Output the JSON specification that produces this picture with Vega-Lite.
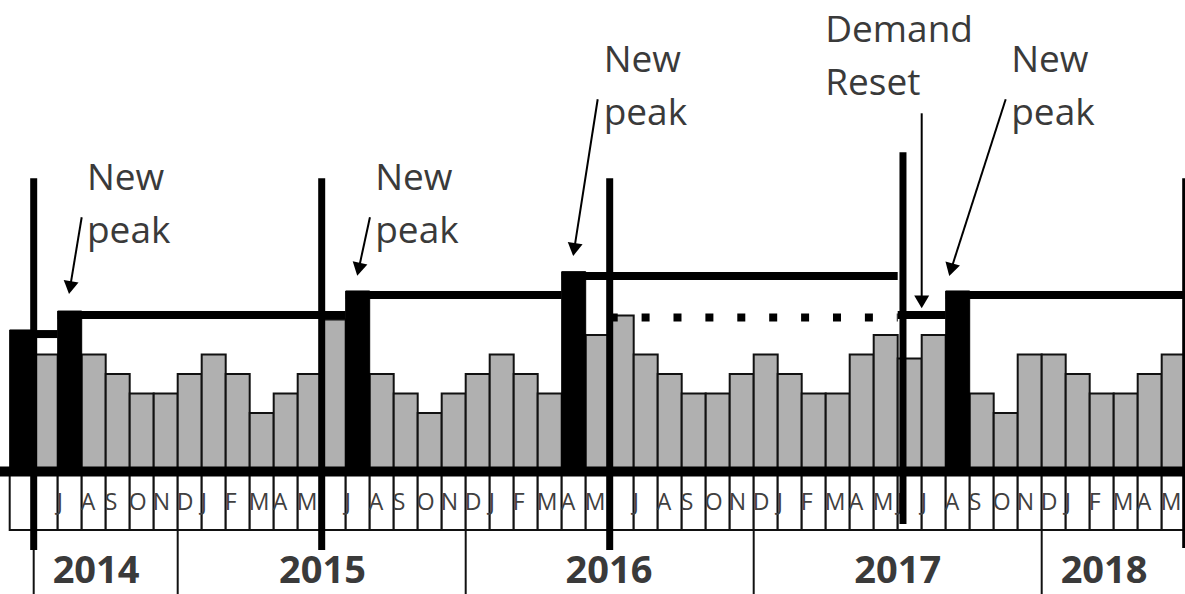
{
  "$schema": "https://vega.github.io/schema/vega-lite/v6.json",
  "width": 1185,
  "height": 594,
  "padding": 0,
  "autosize": {"type": "none"},
  "background": "white",
  "config": {"view": {"stroke": null}},
  "datasets": {
    "months": [
      {"month": "2014-05", "m": 0, "e": 1, "label": "", "v": 7.26, "kind": "peak"},
      {"month": "2014-06", "m": 1, "e": 2, "label": "", "v": 6, "kind": "grey"},
      {"month": "2014-07", "m": 2, "e": 3, "label": "J", "v": 8.23, "kind": "peak"},
      {"month": "2014-08", "m": 3, "e": 4, "label": "A", "v": 6, "kind": "grey"},
      {"month": "2014-09", "m": 4, "e": 5, "label": "S", "v": 5, "kind": "grey"},
      {"month": "2014-10", "m": 5, "e": 6, "label": "O", "v": 4, "kind": "grey"},
      {"month": "2014-11", "m": 6, "e": 7, "label": "N", "v": 4, "kind": "grey"},
      {"month": "2014-12", "m": 7, "e": 8, "label": "D", "v": 5, "kind": "grey"},
      {"month": "2015-01", "m": 8, "e": 9, "label": "J", "v": 6, "kind": "grey"},
      {"month": "2015-02", "m": 9, "e": 10, "label": "F", "v": 5, "kind": "grey"},
      {"month": "2015-03", "m": 10, "e": 11, "label": "M", "v": 3, "kind": "grey"},
      {"month": "2015-04", "m": 11, "e": 12, "label": "A", "v": 4, "kind": "grey"},
      {"month": "2015-05", "m": 12, "e": 13, "label": "M", "v": 5, "kind": "grey"},
      {"month": "2015-06", "m": 13, "e": 14, "label": "", "v": 7.8, "kind": "grey"},
      {"month": "2015-07", "m": 14, "e": 15, "label": "J", "v": 9.26, "kind": "peak"},
      {"month": "2015-08", "m": 15, "e": 16, "label": "A", "v": 5, "kind": "grey"},
      {"month": "2015-09", "m": 16, "e": 17, "label": "S", "v": 4, "kind": "grey"},
      {"month": "2015-10", "m": 17, "e": 18, "label": "O", "v": 3, "kind": "grey"},
      {"month": "2015-11", "m": 18, "e": 19, "label": "N", "v": 4, "kind": "grey"},
      {"month": "2015-12", "m": 19, "e": 20, "label": "D", "v": 5, "kind": "grey"},
      {"month": "2016-01", "m": 20, "e": 21, "label": "J", "v": 6, "kind": "grey"},
      {"month": "2016-02", "m": 21, "e": 22, "label": "F", "v": 5, "kind": "grey"},
      {"month": "2016-03", "m": 22, "e": 23, "label": "M", "v": 4, "kind": "grey"},
      {"month": "2016-04", "m": 23, "e": 24, "label": "A", "v": 10.25, "kind": "peak"},
      {"month": "2016-05", "m": 24, "e": 25, "label": "M", "v": 7, "kind": "grey"},
      {"month": "2016-06", "m": 25, "e": 26, "label": "", "v": 8, "kind": "grey"},
      {"month": "2016-07", "m": 26, "e": 27, "label": "J", "v": 6, "kind": "grey"},
      {"month": "2016-08", "m": 27, "e": 28, "label": "A", "v": 5, "kind": "grey"},
      {"month": "2016-09", "m": 28, "e": 29, "label": "S", "v": 4, "kind": "grey"},
      {"month": "2016-10", "m": 29, "e": 30, "label": "O", "v": 4, "kind": "grey"},
      {"month": "2016-11", "m": 30, "e": 31, "label": "N", "v": 5, "kind": "grey"},
      {"month": "2016-12", "m": 31, "e": 32, "label": "D", "v": 6, "kind": "grey"},
      {"month": "2017-01", "m": 32, "e": 33, "label": "J", "v": 5, "kind": "grey"},
      {"month": "2017-02", "m": 33, "e": 34, "label": "F", "v": 4, "kind": "grey"},
      {"month": "2017-03", "m": 34, "e": 35, "label": "M", "v": 4, "kind": "grey"},
      {"month": "2017-04", "m": 35, "e": 36, "label": "A", "v": 6, "kind": "grey"},
      {"month": "2017-05", "m": 36, "e": 37, "label": "M", "v": 7, "kind": "grey"},
      {"month": "2017-06", "m": 37, "e": 38, "label": "J", "v": 5.8, "kind": "grey"},
      {"month": "2017-07", "m": 38, "e": 39, "label": "J", "v": 7, "kind": "grey"},
      {"month": "2017-08", "m": 39, "e": 40, "label": "A", "v": 9.26, "kind": "peak"},
      {"month": "2017-09", "m": 40, "e": 41, "label": "S", "v": 4, "kind": "grey"},
      {"month": "2017-10", "m": 41, "e": 42, "label": "O", "v": 3, "kind": "grey"},
      {"month": "2017-11", "m": 42, "e": 43, "label": "N", "v": 6, "kind": "grey"},
      {"month": "2017-12", "m": 43, "e": 44, "label": "D", "v": 6, "kind": "grey"},
      {"month": "2018-01", "m": 44, "e": 45, "label": "J", "v": 5, "kind": "grey"},
      {"month": "2018-02", "m": 45, "e": 46, "label": "F", "v": 4, "kind": "grey"},
      {"month": "2018-03", "m": 46, "e": 47, "label": "M", "v": 4, "kind": "grey"},
      {"month": "2018-04", "m": 47, "e": 48, "label": "A", "v": 5, "kind": "grey"},
      {"month": "2018-05", "m": 48, "e": 49, "label": "M", "v": 6, "kind": "grey"}
    ],
    "demand": [
      {"s": 1, "e": 2, "lvl": 7.05, "style": "solid"},
      {"s": 2, "e": 14, "lvl": 8.03, "style": "solid"},
      {"s": 14, "e": 23, "lvl": 9.05, "style": "solid"},
      {"s": 23, "e": 37, "lvl": 10.03, "style": "solid"},
      {"s": 37, "e": 39, "lvl": 8.03, "style": "solid"},
      {"s": 39, "e": 50, "lvl": 9.05, "style": "solid"},
      {"s": 25, "e": 37, "lvl": 7.9, "style": "dotted"}
    ],
    "periods": [
      {"at": 1, "top": 15.04, "bot": -4.03},
      {"at": 13, "top": 15.04, "bot": -4.03},
      {"at": 25, "top": 15.04, "bot": -4.03},
      {"at": 37.22, "top": 16.37, "bot": -2.69},
      {"at": 49, "top": 15.04, "bot": -3.92}
    ],
    "years": [
      {"year": "2014", "start": 1, "mid": 3.6},
      {"year": "2015", "start": 7, "mid": 13.03},
      {"year": "2016", "start": 19, "mid": 24.97},
      {"year": "2017", "start": 31, "mid": 37.0},
      {"year": "2018", "start": 43, "mid": 45.6}
    ],
    "notes": [
      {"text": "New\npeak", "tx": 3.22, "ty": 14.44, "ax": 3.0, "ay": 13.04, "hx": 2.515, "hy": 9.43, "ang": 9.4},
      {"text": "New\npeak", "tx": 15.23, "ty": 14.44, "ax": 15.01, "ay": 13.04, "hx": 14.54, "hy": 10.37, "ang": 12.3},
      {"text": "New\npeak", "tx": 24.75, "ty": 20.49, "ax": 24.5, "ay": 19.09, "hx": 23.52, "hy": 11.38, "ang": 8.85},
      {"text": "Demand\nReset", "tx": 33.98, "ty": 22.04, "ax": 38.0, "ay": 18.37, "hx": 38.0, "hy": 8.7, "ang": 0},
      {"text": "New\npeak", "tx": 41.73, "ty": 20.5, "ax": 41.5, "ay": 19.09, "hx": 39.22, "hy": 10.35, "ang": 15.3}
    ]
  },
  "layer": [
    {
      "data": {"name": "months"},
      "mark": {"type": "rect", "fill": "white", "stroke": "#111111", "strokeWidth": 2},
      "encoding": {
        "x": {"field": "m", "type": "quantitative", "scale": {"domain": [-0.404, 48.971], "nice": false, "zero": false}, "axis": null},
        "x2": {"field": "e"},
        "y": {"datum": 0, "type": "quantitative", "scale": {"domain": [-6.28, 24.18], "nice": false, "zero": false}, "axis": null},
        "y2": {"datum": -3}
      }
    },
    {
      "data": {"name": "months"},
      "mark": {"type": "text", "align": "left", "baseline": "alphabetic", "font": "Open Sans", "fontSize": 23, "fill": "#404040", "dx": -1},
      "encoding": {
        "x": {"field": "m", "type": "quantitative", "scale": {"domain": [-0.404, 48.971], "nice": false, "zero": false}, "axis": null},
        "y": {"datum": -1.97, "type": "quantitative", "scale": {"domain": [-6.28, 24.18], "nice": false, "zero": false}, "axis": null},
        "text": {"field": "label"}
      }
    },
    {
      "data": {"name": "years"},
      "mark": {"type": "rule", "stroke": "#111111", "strokeWidth": 2},
      "encoding": {
        "x": {"field": "start", "type": "quantitative", "scale": {"domain": [-0.404, 48.971], "nice": false, "zero": false}, "axis": null},
        "y": {"datum": -3, "type": "quantitative", "scale": {"domain": [-6.28, 24.18], "nice": false, "zero": false}, "axis": null},
        "y2": {"datum": -6.4}
      }
    },
    {
      "data": {"name": "years"},
      "mark": {"type": "text", "align": "center", "baseline": "alphabetic", "font": "Open Sans", "fontSize": 38, "fontWeight": "bold", "fill": "#3a3a3a"},
      "encoding": {
        "x": {"field": "mid", "type": "quantitative", "scale": {"domain": [-0.404, 48.971], "nice": false, "zero": false}, "axis": null},
        "y": {"datum": -5.73, "type": "quantitative", "scale": {"domain": [-6.28, 24.18], "nice": false, "zero": false}, "axis": null},
        "text": {"field": "year"}
      }
    },
    {
      "data": {"name": "months"},
      "transform": [{"filter": "datum.kind === 'grey'"}],
      "mark": {"type": "rect", "fill": "#b0b0b0", "stroke": "#111111", "strokeWidth": 2},
      "encoding": {
        "x": {"field": "m", "type": "quantitative", "scale": {"domain": [-0.404, 48.971], "nice": false, "zero": false}, "axis": null},
        "x2": {"field": "e"},
        "y": {"field": "v", "type": "quantitative", "scale": {"domain": [-6.28, 24.18], "nice": false, "zero": false}, "axis": null},
        "y2": {"datum": 0}
      }
    },
    {
      "data": {"name": "months"},
      "transform": [{"filter": "datum.kind === 'peak'"}],
      "mark": {"type": "rect", "fill": "black", "stroke": "black", "strokeWidth": 1},
      "encoding": {
        "x": {"field": "m", "type": "quantitative", "scale": {"domain": [-0.404, 48.971], "nice": false, "zero": false}, "axis": null},
        "x2": {"field": "e"},
        "y": {"field": "v", "type": "quantitative", "scale": {"domain": [-6.28, 24.18], "nice": false, "zero": false}, "axis": null},
        "y2": {"datum": 0}
      }
    },
    {
      "data": {"values": [{"from": -0.5, "to": 50}]},
      "mark": {"type": "rule", "stroke": "black", "strokeWidth": 10},
      "encoding": {
        "x": {"field": "from", "type": "quantitative", "scale": {"domain": [-0.404, 48.971], "nice": false, "zero": false}, "axis": null},
        "x2": {"field": "to"},
        "y": {"datum": 0, "type": "quantitative", "scale": {"domain": [-6.28, 24.18], "nice": false, "zero": false}, "axis": null}
      }
    },
    {
      "data": {"name": "demand"},
      "transform": [{"filter": "datum.style === 'solid'"}],
      "mark": {"type": "rule", "stroke": "black", "strokeWidth": 8},
      "encoding": {
        "x": {"field": "s", "type": "quantitative", "scale": {"domain": [-0.404, 48.971], "nice": false, "zero": false}, "axis": null},
        "x2": {"field": "e"},
        "y": {"field": "lvl", "type": "quantitative", "scale": {"domain": [-6.28, 24.18], "nice": false, "zero": false}, "axis": null}
      }
    },
    {
      "data": {"name": "demand"},
      "transform": [{"filter": "datum.style === 'dotted'"}],
      "mark": {"type": "rule", "stroke": "black", "strokeWidth": 8, "strokeDash": [8, 23.9], "strokeCap": "butt"},
      "encoding": {
        "x": {"field": "s", "type": "quantitative", "scale": {"domain": [-0.404, 48.971], "nice": false, "zero": false}, "axis": null},
        "x2": {"field": "e"},
        "y": {"field": "lvl", "type": "quantitative", "scale": {"domain": [-6.28, 24.18], "nice": false, "zero": false}, "axis": null}
      }
    },
    {
      "data": {"name": "periods"},
      "mark": {"type": "rule", "stroke": "black", "strokeWidth": 7},
      "encoding": {
        "x": {"field": "at", "type": "quantitative", "scale": {"domain": [-0.404, 48.971], "nice": false, "zero": false}, "axis": null},
        "y": {"field": "top", "type": "quantitative", "scale": {"domain": [-6.28, 24.18], "nice": false, "zero": false}, "axis": null},
        "y2": {"field": "bot"}
      }
    },
    {
      "data": {"name": "notes"},
      "mark": {"type": "rule", "stroke": "black", "strokeWidth": 2},
      "encoding": {
        "x": {"field": "ax", "type": "quantitative", "scale": {"domain": [-0.404, 48.971], "nice": false, "zero": false}, "axis": null},
        "x2": {"field": "hx"},
        "y": {"field": "ay", "type": "quantitative", "scale": {"domain": [-6.28, 24.18], "nice": false, "zero": false}, "axis": null},
        "y2": {"field": "hy"}
      }
    },
    {
      "data": {"name": "notes"},
      "mark": {"type": "point", "shape": "triangle-down", "filled": true, "fill": "black", "stroke": null, "opacity": 1, "size": 225},
      "encoding": {
        "x": {"field": "hx", "type": "quantitative", "scale": {"domain": [-0.404, 48.971], "nice": false, "zero": false}, "axis": null},
        "y": {"field": "hy", "type": "quantitative", "scale": {"domain": [-6.28, 24.18], "nice": false, "zero": false}, "axis": null},
        "angle": {"field": "ang", "type": "quantitative", "scale": null}
      }
    },
    {
      "data": {"name": "notes"},
      "mark": {"type": "text", "align": "left", "baseline": "alphabetic", "font": "Open Sans", "fontSize": 37, "fill": "#3a3a3a", "lineBreak": "\n", "lineHeight": 53},
      "encoding": {
        "x": {"field": "tx", "type": "quantitative", "scale": {"domain": [-0.404, 48.971], "nice": false, "zero": false}, "axis": null},
        "y": {"field": "ty", "type": "quantitative", "scale": {"domain": [-6.28, 24.18], "nice": false, "zero": false}, "axis": null},
        "text": {"field": "text"}
      }
    }
  ]
}
